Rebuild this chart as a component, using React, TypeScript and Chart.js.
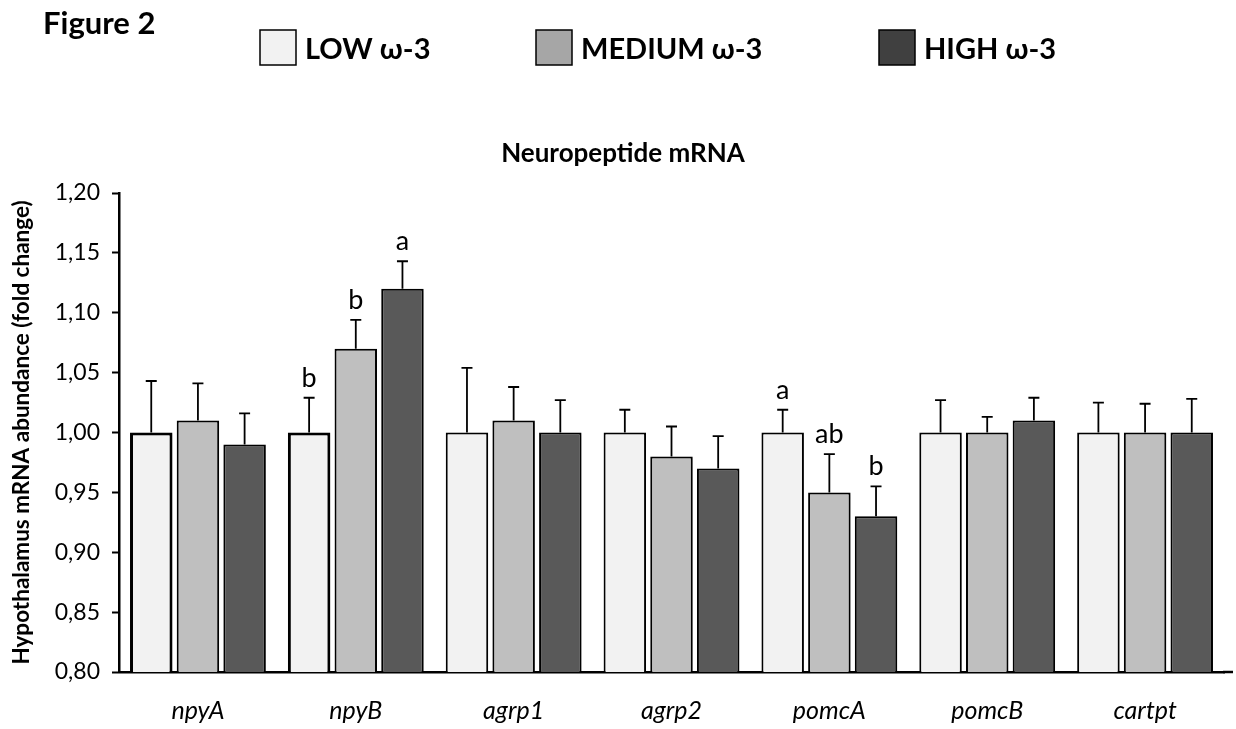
import React, { useEffect, useRef } from "react";
import { Chart, registerables } from "chart.js";

Chart.register(...registerables);

const CATEGORIES = ["npyA", "npyB", "agrp1", "agrp2", "pomcA", "pomcB", "cartpt"];
const SERIES_LABELS = ["LOW ω-3", "MEDIUM ω-3", "HIGH ω-3"];

const LOW_VALUES = [1.0, 1.0, 1.0, 1.0, 1.0, 1.0, 1.0];
const MEDIUM_VALUES = [1.01, 1.07, 1.01, 0.98, 0.95, 1.0, 1.0];
const HIGH_VALUES = [0.99, 1.12, 1.0, 0.97, 0.93, 1.01, 1.0];

const LOW_ERRORS = [0.043, 0.029, 0.054, 0.019, 0.019, 0.027, 0.025];
const MEDIUM_ERRORS = [0.031, 0.024, 0.028, 0.025, 0.032, 0.013, 0.024];
const HIGH_ERRORS = [0.026, 0.023, 0.027, 0.027, 0.025, 0.019, 0.028];

const LOW_LETTERS = ["", "b", "", "", "a", "", ""];
const MEDIUM_LETTERS = ["", "b", "", "", "ab", "", ""];
const HIGH_LETTERS = ["", "a", "", "", "b", "", ""];

const Y_MIN = 0.8;
const Y_MAX = 1.2;
const Y_STEP = 0.05;

const CHART_TITLE = "Neuropeptide mRNA";
const FIGURE_LABEL = "Figure 2";
const Y_TITLE = "Hypothalamus mRNA abundance (fold change)";

const ERRORS = [LOW_ERRORS, MEDIUM_ERRORS, HIGH_ERRORS];
const LETTERS = [LOW_LETTERS, MEDIUM_LETTERS, HIGH_LETTERS];
const BAR_COLORS = ["#f2f2f2", "#bfbfbf", "#595959"];
const LEGEND_COLORS = ["#f2f2f2", "#a6a6a6", "#404040"];

const FONT = "Lato, 'Open Sans', sans-serif";

const decorPlugin = {
  id: "decor",
  beforeDatasetsDraw(chart: any) {
    const ctx = chart.ctx;
    ctx.save();
    ctx.shadowColor = "rgba(0,0,0,0.18)";
    ctx.shadowBlur = 3;
    ctx.shadowOffsetX = 2;
    ctx.shadowOffsetY = 1;
  },
  afterDatasetsDraw(chart: any) {
    const ctx = chart.ctx;
    ctx.restore();
    const y = chart.scales.y;
    ctx.save();
    ctx.strokeStyle = "#000";
    ctx.lineWidth = 1.8;
    ctx.fillStyle = "#000";
    ctx.font = `27px ${FONT}`;
    ctx.textAlign = "center";
    ctx.textBaseline = "alphabetic";
    chart.data.datasets.forEach((ds: any, di: number) => {
      const meta = chart.getDatasetMeta(di);
      meta.data.forEach((bar: any, i: number) => {
        const v = ds.data[i];
        const e = ERRORS[di][i];
        const yv = y.getPixelForValue(v);
        const yt = y.getPixelForValue(v + e);
        ctx.beginPath();
        ctx.moveTo(bar.x, yv);
        ctx.lineTo(bar.x, yt);
        ctx.moveTo(bar.x - 5.5, yt);
        ctx.lineTo(bar.x + 5.5, yt);
        ctx.stroke();
        const letter = LETTERS[di][i];
        if (letter) ctx.fillText(letter, bar.x, yt - 11);
      });
    });
    ctx.restore();
  },
  afterDraw(chart: any) {
    const ctx = chart.ctx;
    const area = chart.chartArea;
    ctx.save();
    // axis line extension
    ctx.strokeStyle = "#000";
    ctx.lineWidth = 2.5;
    ctx.beginPath();
    ctx.moveTo(area.right - 1, area.bottom);
    ctx.lineTo(area.right + 9, area.bottom);
    ctx.stroke();

    ctx.fillStyle = "#000";
    ctx.textBaseline = "alphabetic";
    // figure label
    ctx.textAlign = "left";
    ctx.font = `bold 31px ${FONT}`;
    ctx.fillText(FIGURE_LABEL, 43, 34);
    // chart title
    ctx.textAlign = "center";
    ctx.font = `bold 26px ${FONT}`;
    ctx.fillText(CHART_TITLE, 623, 162);
    // legend
    const legendX = [260, 536, 879];
    ctx.textAlign = "left";
    ctx.font = `bold 29px ${FONT}`;
    SERIES_LABELS.forEach((label, k) => {
      const x = legendX[k];
      ctx.fillStyle = LEGEND_COLORS[k];
      ctx.fillRect(x, 30, 36, 35);
      ctx.strokeStyle = "#000";
      ctx.lineWidth = 1.5;
      ctx.strokeRect(x, 30, 36, 35);
      ctx.fillStyle = "#000";
      ctx.fillText(label, x + 45, 59);
    });
    ctx.restore();
  },
};

export default function App() {
  const ref = useRef<HTMLCanvasElement | null>(null);

  useEffect(() => {
    if (!ref.current) return;
    const datasets = [LOW_VALUES, MEDIUM_VALUES, HIGH_VALUES].map((vals, k) => ({
      label: SERIES_LABELS[k],
      data: vals,
      backgroundColor: BAR_COLORS[k],
      borderColor: "#000",
      borderWidth: k === 0 ? [3, 3, 2, 2, 2, 2, 2] : 2,
      borderSkipped: false,
      categoryPercentage: 0.887,
      barPercentage: 0.91,
    }));
    const chart = new Chart(ref.current, {
      type: "bar",
      data: { labels: CATEGORIES, datasets },
      plugins: [decorPlugin],
      options: {
        responsive: false,
        animation: false,
        layout: { padding: { top: 193, right: 12, left: 0, bottom: 0 } },
        plugins: {
          legend: { display: false },
          title: { display: false },
          tooltip: { enabled: false },
        },
        scales: {
          x: {
            grid: { display: false, drawTicks: false },
            border: { display: true, color: "#000", width: 2.5 },
            ticks: {
              color: "#000",
              padding: 24,
              font: { family: FONT, size: 25, style: "italic" },
            },
            afterFit: (s: any) => {
              s.height = 57;
            },
          },
          y: {
            min: Y_MIN,
            max: Y_MAX,
            grid: {
              drawOnChartArea: false,
              drawTicks: true,
              tickLength: 7,
              tickColor: "#000",
              tickWidth: 2,
            },
            border: { display: true, color: "#000", width: 2.5 },
            ticks: {
              stepSize: Y_STEP,
              color: "#000",
              padding: 12,
              font: { family: FONT, size: 23 },
              callback: (v: any) => Number(v).toFixed(2).replace(".", ","),
            },
            title: {
              display: true,
              text: Y_TITLE,
              color: "#000",
              padding: { top: 8, bottom: 0 },
              font: { family: FONT, size: 22.5, weight: "bold" },
            },
            afterFit: (s: any) => {
              s.width = 119;
            },
          },
        },
      },
    } as any);
    return () => chart.destroy();
  }, []);

  return (
    <div style={{ position: "fixed", left: 0, top: 0, width: 1236, height: 729, background: "#fff" }}>
      <canvas ref={ref} width={1236} height={729} style={{ display: "block" }} />
    </div>
  );
}
